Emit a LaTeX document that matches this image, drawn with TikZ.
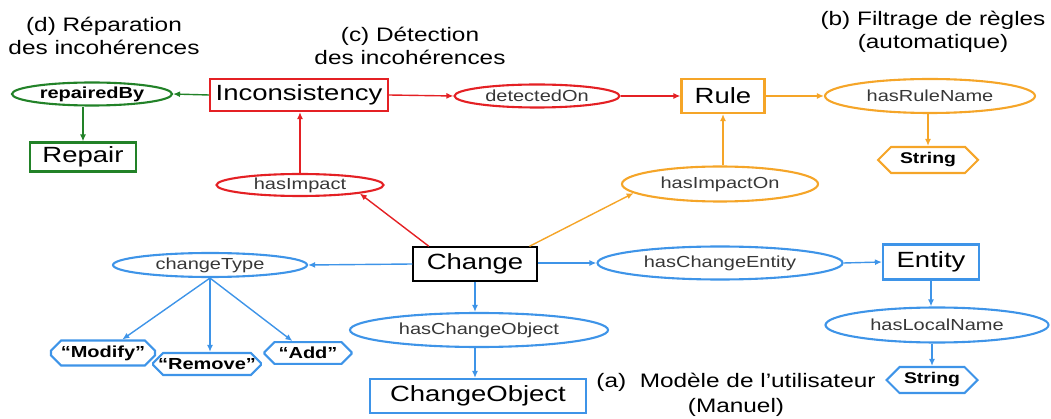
\documentclass[tikz,border=0pt]{standalone}
\usepackage{fontspec}
\setmainfont{Liberation Sans}
\newfontfamily\wf[FakeStretch=1.25]{Liberation Sans}
\usetikzlibrary{shapes.geometric,shapes.misc,shapes.symbols,arrows.meta}
\definecolor{cred}{RGB}{228,32,36}
\definecolor{cgreen}{RGB}{34,130,40}
\definecolor{corange}{RGB}{245,165,40}
\definecolor{cblue}{RGB}{62,148,232}
\definecolor{tgray}{RGB}{55,55,55}
\tikzset{
  box/.style={draw, rectangle, line width=2.1pt, inner sep=0pt, minimum height=32pt,
    font=\wf\fontsize{22}{24}\selectfont, text=black},
  ell/.style={draw, ellipse, line width=2.1pt, inner sep=0pt,
    font=\wf\fontsize{16}{18}\selectfont, text=tgray},
  oct/.style={draw, chamfered rectangle, chamfered rectangle xsep=5pt, chamfered rectangle ysep=5pt,
    line width=2.1pt, inner sep=0pt, font=\wf\bfseries\fontsize{16}{18}\selectfont, text=black},
  hexa/.style={draw, signal, signal to=west and east, signal pointer angle=90,
    line width=2.1pt, inner sep=0pt, font=\wf\bfseries\fontsize{15.5}{17}\selectfont, text=black},
  ttl/.style={align=center, font=\wf\fontsize{19.5}{22.5}\selectfont, text=black, inner sep=0pt},
  arr/.style={-{Latex[length=7pt,width=6pt]}, line width=1.4pt},
}
\begin{document}
\begin{tikzpicture}[x=1pt,y=-1pt]
\useasboundingbox (0,0) rectangle (1051,419);
% titles
\node[ttl] (td) at (104,36) {(d) Réparation\\des incohérences};
\node[ttl] (tc) at (410,46) {(c) Détection\\des incohérences};
\node[ttl] (tb) at (933,32) {(b) Filtrage de règles\\(automatique)};
\node[ttl, font=\wf\fontsize{19.5}{25}\selectfont] (ta) at (736,395) {(a)\ \ Modèle de l’utilisateur\\(Manuel)};
% red / green
\node[box, draw=cred, minimum width=178pt] (incon) at (299,95) {Inconsistency};
\node[ell, draw=cgreen, minimum width=160pt, minimum height=23pt, text=black,
      font=\wf\bfseries\fontsize{16}{18}\selectfont] (repaired) at (92,94) {repairedBy};
\node[box, draw=cgreen, minimum width=106pt, minimum height=29pt] (repair) at (83,157) {Repair};
\node[ell, draw=cred, minimum width=165pt, minimum height=23pt] (detected) at (537,96) {detectedOn};
\node[ell, draw=cred, minimum width=167pt, minimum height=22pt] (impact) at (300,185) {hasImpact};
% orange
\node[box, draw=corange, minimum width=83pt, minimum height=34pt] (rule) at (723,96) {Rule};
\node[ell, draw=corange, minimum width=210pt, minimum height=34pt] (rulename) at (930,96) {hasRuleName};
\node[hexa, draw=corange, minimum width=100pt, minimum height=26pt] (string1) at (928,160) {String};
\node[ell, draw=corange, minimum width=196pt, minimum height=35pt] (impacton) at (720,184) {hasImpactOn};
% change
\node[box, draw=black, line width=1.4pt, minimum width=124pt, minimum height=34pt] (change) at (475,264) {Change};
% blue
\node[ell, draw=cblue, minimum width=194pt, minimum height=24pt] (ctype) at (210,265) {changeType};
\node[oct, draw=cblue, minimum width=104pt, minimum height=20pt] (modify) at (103,353) {“Modify”};
\node[oct, draw=cblue, minimum width=100pt, minimum height=22pt] (remove) at (207,364) {“Remove”};
\node[oct, draw=cblue, minimum width=87pt, minimum height=20pt] (add) at (308,353) {“Add”};
\node[ell, draw=cblue, minimum width=258pt, minimum height=34pt] (chobj) at (479,330) {hasChangeObject};
\node[box, draw=cblue, minimum width=216pt, minimum height=34pt] (changeobject) at (478,396) {ChangeObject};
\node[ell, draw=cblue, minimum width=245pt, minimum height=33pt] (chentity) at (720,263) {hasChangeEntity};
\node[box, draw=cblue, minimum width=96pt, minimum height=35pt] (entity) at (931,262) {Entity};
\node[ell, draw=cblue, minimum width=223pt, minimum height=35pt] (localname) at (937,325) {hasLocalName};
\node[hexa, draw=cblue, minimum width=91pt, minimum height=26pt] (string2) at (932,380) {String};
% connectors
\draw[arr, cgreen] (incon.west) -- (repaired.east);
\draw[arr, cgreen] (repaired.south -| repair.north) -- (repair.north);
\draw[arr, cred] (incon.east) -- (detected.west);
\draw[arr, cred] (detected.east) -- (rule.west);
\draw[arr, cred] (impact.north) -- (impact.north |- incon.south);
\draw[arr, cred] (change.159) -- (impact.south east);
\draw[arr, corange] (rule.east) -- (rulename.west);
\draw[arr, corange] (rulename.south -| string1.north) -- (string1.north);
\draw[arr, corange] (impacton.north -| rule.south) -- (rule.south);
\draw[arr, corange] (change.18) -- (impacton.186);
\draw[arr, cblue] (change.west) -- (ctype.east);
\draw[arr, cblue] (ctype.south) -- (modify);
\draw[arr, cblue] (ctype.south) -- (remove.north -| ctype.south);
\draw[arr, cblue] (ctype.south) -- (add);
\draw[arr, cblue] (change.south) -- (change.south |- chobj.north);
\draw[arr, cblue] (chobj.south -| change.south) -- (changeobject.north -| change.south);
\draw[arr, cblue] (change.east |- chentity.west) -- (chentity.west);
\draw[arr, cblue] (chentity.east) -- (entity.west);
\draw[arr, cblue] (entity.south) -- (entity.south |- localname.north);
\draw[arr, cblue] (localname.south -| string2.north) -- (string2.north);
\end{tikzpicture}
\end{document}
